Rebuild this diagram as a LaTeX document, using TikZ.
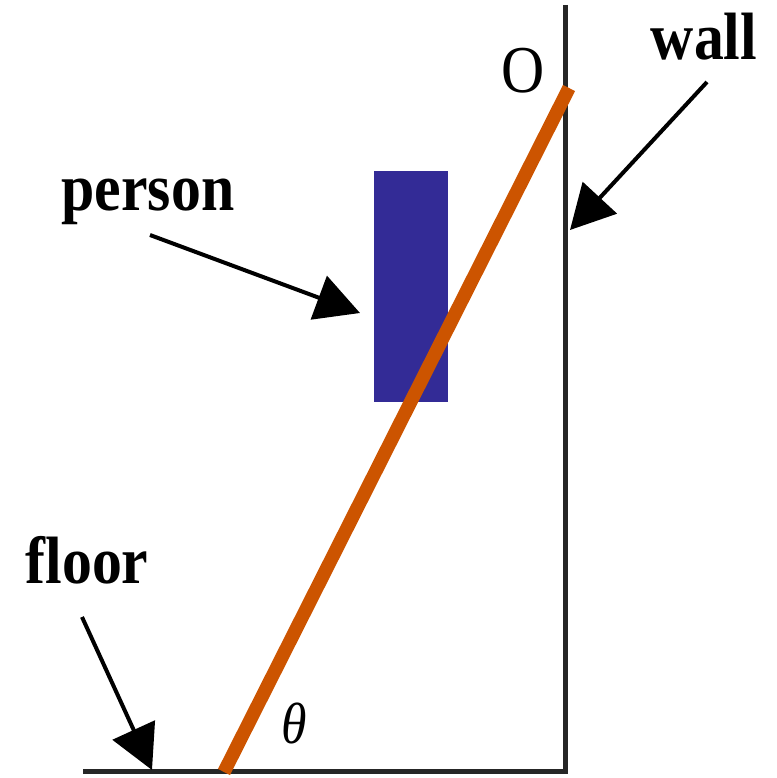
\documentclass[tikz,border=0pt]{standalone}
\usepackage{fontspec}
\setmainfont{Liberation Serif}
\usetikzlibrary{arrows.meta}
\definecolor{ladderorange}{RGB}{204,84,0}
\definecolor{personblue}{RGB}{51,43,150}
\newcommand{\tallText}[1]{\scalebox{1}[1.12]{#1}}
\begin{document}
\begin{tikzpicture}[x=1bp,y=-1bp,
  lbl/.style={font=\fontsize{60}{60}\selectfont\bfseries, inner sep=0pt, anchor=base},
  pointer/.style={line width=4bp, -{Triangle[length=44bp,width=46bp]}},
  structure/.style={line width=5bp, black!85},
  ladderline/.style={line width=13.5bp, ladderorange}]
\useasboundingbox (0,0) rectangle (777,778);
% wall and floor
\coordinate (wallTop) at (565,5);
\coordinate (corner) at (565,771);
\coordinate (floorLeft) at (83,771);
\draw[structure] (wallTop) -- (corner);
\draw[structure] (floorLeft) -- ([xshift=2.5bp]corner);
% person
\node[fill=personblue, inner sep=0pt, minimum width=74bp, minimum height=231bp] (personbox) at (411,286.5) {};
% ladder
\coordinate (ladderBottom) at (224,772);
\coordinate (ladderTop) at (569,88);
\draw[ladderline] (ladderBottom) -- (ladderTop);
% labels
\node[lbl] (wallLabel) at (704,60) {\tallText{wall}};
\node[lbl] (personLabel) at (148,210) {\tallText{person}};
\node[lbl] (floorLabel) at (87,583) {\tallText{floor}};
\node[font=\fontsize{60}{60}\selectfont, inner sep=0pt, anchor=base] (O) at (523,92) {\tallText{O}};
\node[font=\fontsize{52}{52}\selectfont\itshape, inner sep=0pt, anchor=base] (theta) at (294,743) {\tallText{θ}};
% arrows
\coordinate (wallStart) at (707,82);
\coordinate (wallTip) at (570,230);
\coordinate (personStart) at (150,235);
\coordinate (personTip) at (360,313);
\coordinate (floorStart) at (82,617);
\coordinate (floorTip) at (152,770);
\draw[pointer] (wallStart) -- (wallTip);
\draw[pointer] (personStart) -- (personTip);
\draw[pointer] (floorStart) -- (floorTip);
\end{tikzpicture}
\end{document}
